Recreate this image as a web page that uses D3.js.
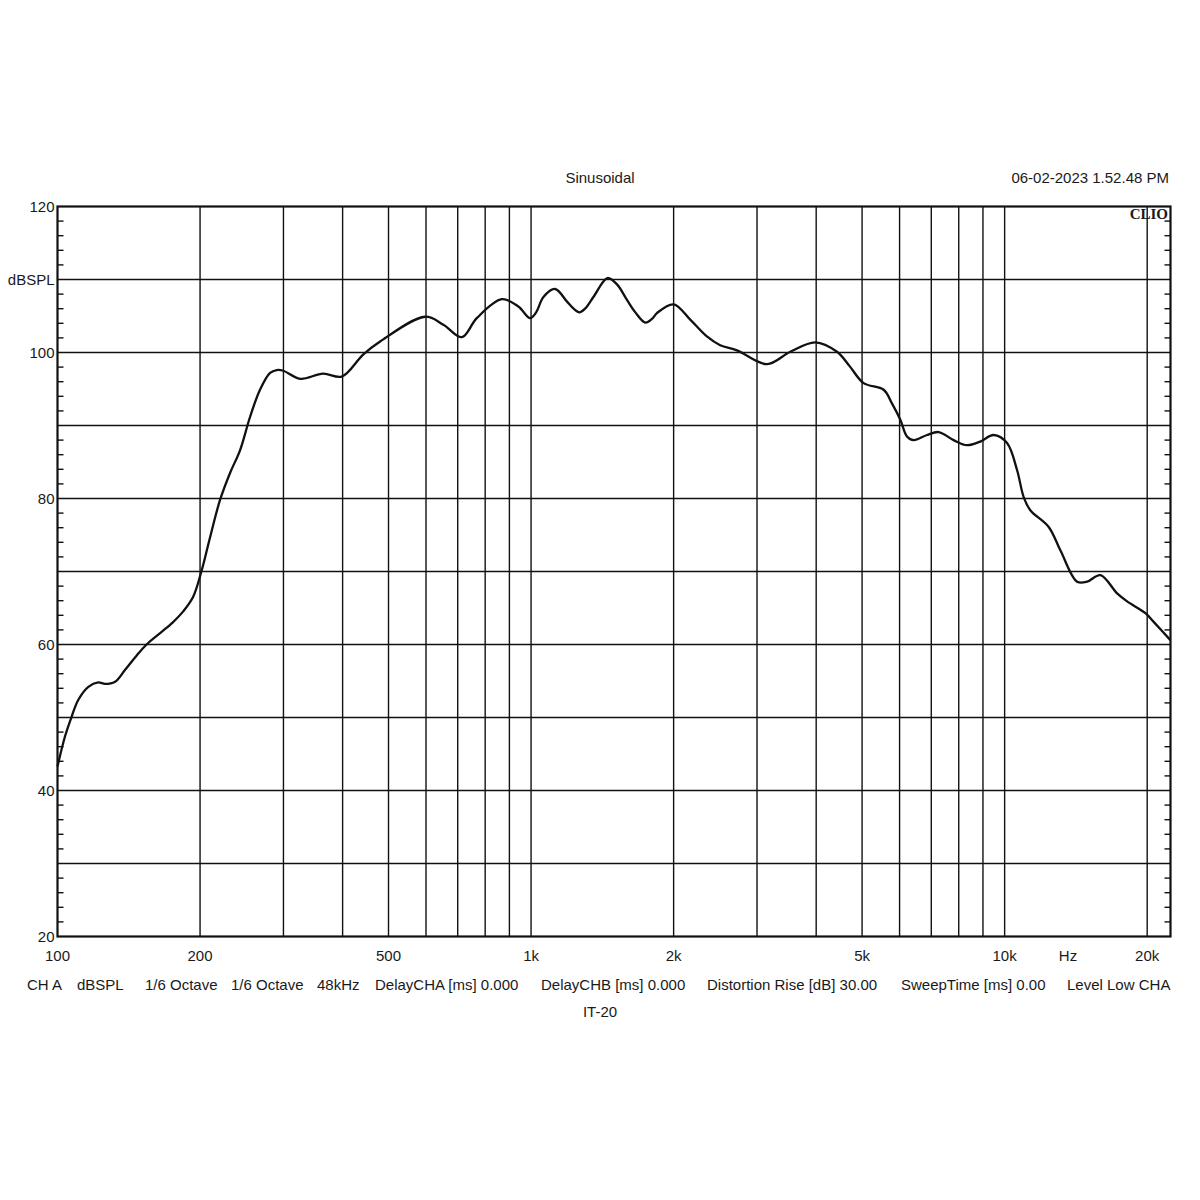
<!DOCTYPE html>
<html>
<head>
<meta charset="utf-8">
<script src="https://cdn.jsdelivr.net/npm/d3@7"></script>
<style>
  html, body { margin: 0; padding: 0; background: #fff; }
  svg { display: block; }
  text { font-family: "Liberation Sans", Arial, sans-serif; fill: #1a1a1a; }
</style>
</head>
<body>
<svg id="chart" width="1200" height="1200"></svg>
<script>
// ---- data ----
const freqs = [100, 103.7, 107.1, 110.6, 116.2, 121.9, 126, 132.3, 138.8, 147, 154.2, 165, 175, 184.1, 193.3,
  201.7, 210, 220.4, 231.4, 242.9, 255.1, 267.7, 281.1, 290.4, 299.9, 325.3, 363.8, 398.4, 441.9,
  480, 597.5, 653, 714.3, 768, 867.6, 940, 995.6, 1025, 1062, 1124, 1190, 1230, 1265, 1300, 1354, 1450,
  1520, 1594, 1660, 1742, 1800, 1844, 2000, 2168, 2351, 2508, 2721, 3149, 3527, 3982, 4426, 4710, 5038,
  5553, 5785, 6022, 6221, 6425, 6857, 7255, 7804, 8328, 8885, 9480, 10118, 10622, 10970, 11330, 12389,
  13113, 14223, 14936, 15929, 17282, 18141, 19829, 20639, 22387];
const spl = [43.3, 47.4, 50.1, 52.4, 54.2, 54.8, 54.6, 54.9, 56.5, 58.5, 60.0, 61.6, 63.0, 64.5, 66.5,
  70.2, 74.7, 79.8, 83.5, 86.6, 91.2, 94.9, 97.2, 97.6, 97.5, 96.4, 97.1, 96.7, 99.7,
  101.5, 104.9, 103.8, 102.1, 104.7, 107.3, 106.3, 104.7, 105.5, 107.6, 108.7, 107.0, 106.0, 105.5, 106.0, 107.6, 110.2,
  109.3, 107.2, 105.5, 104.1, 104.6, 105.4, 106.6, 104.5, 102.2, 101.0, 100.3, 98.4, 100.1, 101.4, 100.1, 98.1, 95.8,
  94.9, 93.0, 90.8, 88.5, 88.0, 88.7, 89.1, 88.0, 87.3, 87.8, 88.7, 87.6, 83.9, 80.2, 78.4, 76.1,
  72.9, 68.6, 68.6, 69.5, 67.0, 65.9, 64.3, 63.1, 60.6];
const yTickValues = [20, 40, 60, 80, 100, 120];
const yTickLabels = ["20", "40", "60", "80", "100", "120"];
const yUnitLabel = "dBSPL";
const xGridValues = [200, 300, 400, 500, 600, 700, 800, 900, 1000, 2000, 3000, 4000, 5000, 6000, 7000, 8000, 9000, 10000, 20000];
const xTickValues = [100, 200, 500, 1000, 2000, 5000, 10000, 20000];
const xTickLabels = ["100", "200", "500", "1k", "2k", "5k", "10k", "20k"];
const xUnitLabel = "Hz";
const titleText = "Sinusoidal";
const dateText = "06-02-2023 1.52.48 PM";
const brandText = "CLIO";
const footerText = "IT-20";
const paramTexts = ["CH A", "dBSPL", "1/6 Octave", "1/6 Octave", "48kHz", "DelayCHA [ms] 0.000",
  "DelayCHB [ms] 0.000", "Distortion Rise [dB] 30.00", "SweepTime [ms] 0.00", "Level Low CHA"];

// ---- layout ----
const L = 57.5, R = 1170.5, T = 206.5, B = 936.5;
const paramX = [27, 77, 145, 231, 317, 375, 541, 707, 901, 1067];
const FS = 15;

const svg = d3.select("#chart");
const x = d3.scaleLog().domain([100, 22400]).range([L, R]);
const y = d3.scaleLinear().domain([20, 120]).range([B, T]);

// horizontal grid every 10 dB
const hGrid = d3.range(30, 120, 10);
svg.append("g").selectAll("line").data(hGrid).join("line")
  .attr("x1", L).attr("x2", R)
  .attr("y1", d => y(d)).attr("y2", d => y(d))
  .attr("stroke", "#111").attr("stroke-width", 1.4);

// vertical grid
svg.append("g").selectAll("line").data(xGridValues).join("line")
  .attr("x1", d => x(d)).attr("x2", d => x(d))
  .attr("y1", T).attr("y2", B)
  .attr("stroke", "#111").attr("stroke-width", 1.4);

// minor ticks every 2 dB on both sides
const minor = d3.range(20, 121, 2).filter(d => d % 10 !== 0);
svg.append("g").selectAll("line").data(minor).join("line")
  .attr("x1", L).attr("x2", L + 6)
  .attr("y1", d => y(d)).attr("y2", d => y(d))
  .attr("stroke", "#111").attr("stroke-width", 1.4);
svg.append("g").selectAll("line").data(minor).join("line")
  .attr("x1", R - 6).attr("x2", R)
  .attr("y1", d => y(d)).attr("y2", d => y(d))
  .attr("stroke", "#111").attr("stroke-width", 1.4);

// frame
svg.append("rect").attr("x", L).attr("y", T).attr("width", R - L).attr("height", B - T)
  .attr("fill", "none").attr("stroke", "#111").attr("stroke-width", 2.2);

// curve
const pts = freqs.map((f, i) => [f, spl[i]]);
const line = d3.line().x(d => x(d[0])).y(d => y(d[1])).curve(d3.curveCatmullRom.alpha(0.5));
svg.append("path").datum(pts).attr("d", line)
  .attr("fill", "none").attr("stroke", "#111").attr("stroke-width", 2.3)
  .attr("stroke-linejoin", "round");

// y labels
svg.append("g").selectAll("text").data(yTickValues).join("text")
  .attr("x", L - 3).attr("y", d => y(d)).attr("dy", "0.35em")
  .attr("text-anchor", "end").attr("font-size", FS)
  .text((d, i) => yTickLabels[i]);
svg.append("text").attr("x", L - 3).attr("y", y(110)).attr("dy", "0.35em")
  .attr("text-anchor", "end").attr("font-size", FS).text(yUnitLabel);

// x labels
svg.append("g").selectAll("text").data(xTickValues).join("text")
  .attr("x", d => x(d)).attr("y", 956).attr("dy", "0.35em")
  .attr("text-anchor", "middle").attr("font-size", FS)
  .text((d, i) => xTickLabels[i]);
svg.append("text").attr("x", 1068).attr("y", 956).attr("dy", "0.35em")
  .attr("text-anchor", "middle").attr("font-size", FS).text(xUnitLabel);

// title / date / brand
svg.append("text").attr("x", 600).attr("y", 178).attr("dy", "0.35em")
  .attr("text-anchor", "middle").attr("font-size", FS).text(titleText);
svg.append("text").attr("x", 1169).attr("y", 178).attr("dy", "0.35em")
  .attr("text-anchor", "end").attr("font-size", FS).text(dateText);
svg.append("text").attr("x", 1168).attr("y", 214).attr("dy", "0.35em")
  .attr("text-anchor", "end").attr("font-size", 15).attr("font-weight", "bold")
  .style("font-family", "'Liberation Serif', 'Times New Roman', serif").text(brandText);

// parameter line
svg.append("g").selectAll("text").data(paramTexts).join("text")
  .attr("x", (d, i) => paramX[i]).attr("y", 985).attr("dy", "0.35em")
  .attr("text-anchor", "start").attr("font-size", FS)
  .text(d => d);
svg.append("text").attr("x", 600).attr("y", 1012).attr("dy", "0.35em")
  .attr("text-anchor", "middle").attr("font-size", FS).text(footerText);
</script>
</body>
</html>
